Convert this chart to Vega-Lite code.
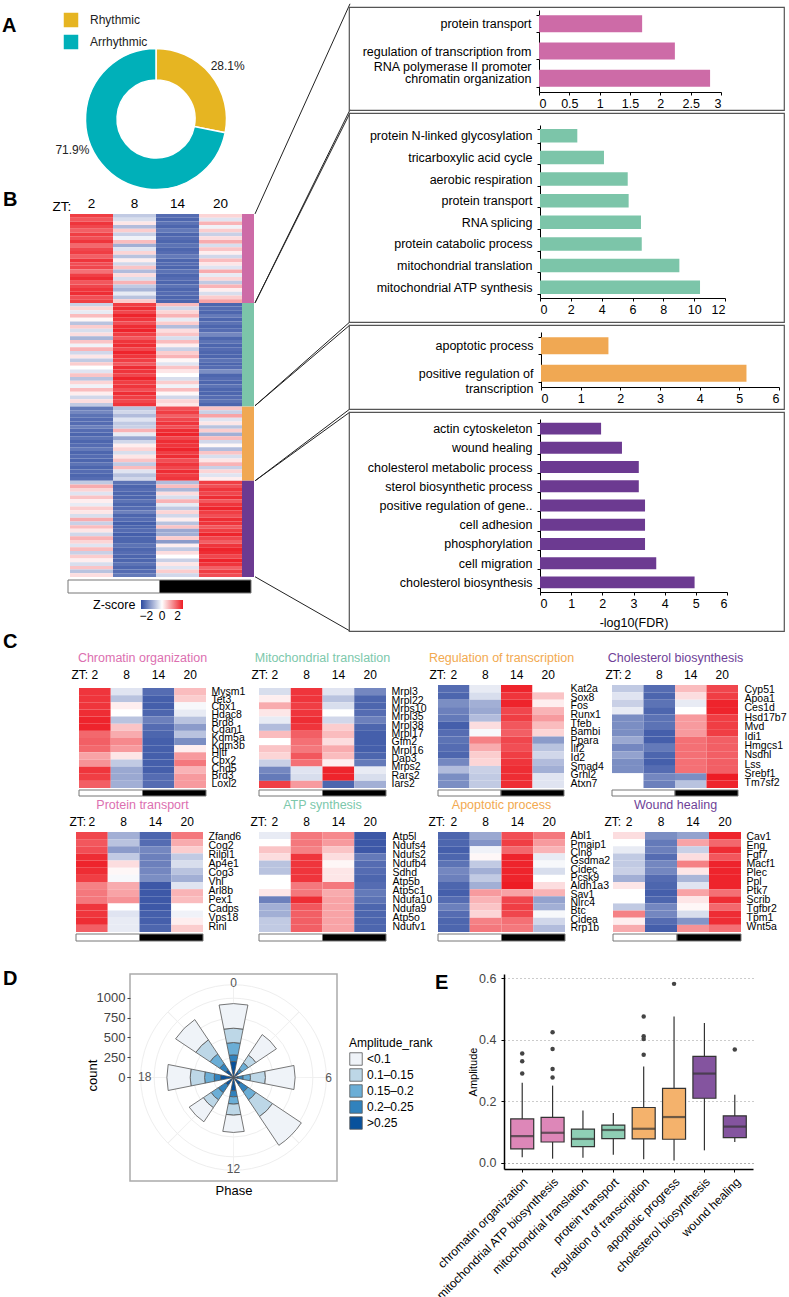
{"$schema":"https://vega.github.io/schema/vega-lite/v6.json","padding":0,"background":"white",
"config":{"font":"Liberation Sans","view":{"stroke":null},
"title":{"anchor":"start","frame":"group","fontSize":20,"fontWeight":"bold","offset":0,"baseline":"alphabetic","color":"#000"},
"axisTop":{"domain":false,"ticks":false,"labelAngle":0,"labelFontSize":12,"labelPadding":4,"labelColor":"#000","titleFontWeight":"normal","titleFontSize":12,"titleAlign":"left","titleBaseline":"alphabetic","titleX":-8,"titleY":-7,"titleColor":"#000"},
"axisRight":{"domain":false,"ticks":false,"labelFontSize":10.5,"labelPadding":5,"labelOverlap":false,"labelColor":"#000","labelLimit":100},
"axisLeft":{"domainColor":"#000","tickColor":"#000","tickSize":3,"tickBand":"extent","labelFontSize":12.5,"labelColor":"#000","labelPadding":5,"labelLimit":300,"labelLineHeight":15,"labelOverlap":false},
"axisBottom":{"tickSize":3,"labelFontSize":12.5,"labelColor":"#000","domainColor":"#000","tickColor":"#000","labelPadding":2,"labelOverlap":false,"labelAngle":0,"titleFontWeight":"normal","titleColor":"#000"}},
"datasets":{
"h":[{"r":1,"t":2,"z":2.3},{"r":2,"t":2,"z":2.0},{"r":3,"t":2,"z":2.4},{"r":4,"t":2,"z":2.2},{"r":5,"t":2,"z":1.9},{"r":6,"t":2,"z":2.3},{"r":7,"t":2,"z":2.1},{"r":8,"t":2,"z":2.4},{"r":9,"t":2,"z":1.8},{"r":10,"t":2,"z":2.2},{"r":11,"t":2,"z":2.3},{"r":12,"t":2,"z":1.9},{"r":13,"t":2,"z":2.4},{"r":14,"t":2,"z":2.1},{"r":15,"t":2,"z":2.2},{"r":16,"t":2,"z":1.7},{"r":17,"t":2,"z":2.3},{"r":18,"t":2,"z":2.5},{"r":19,"t":2,"z":2.0},{"r":20,"t":2,"z":2.2},{"r":21,"t":2,"z":2.4},{"r":22,"t":2,"z":2.5},{"r":23,"t":2,"z":2.1},{"r":24,"t":2,"z":2.3},
{"r":25,"t":2,"z":-0.7},{"r":26,"t":2,"z":0.5},{"r":27,"t":2,"z":-0.3},{"r":28,"t":2,"z":0.8},{"r":29,"t":2,"z":0.1},{"r":30,"t":2,"z":-0.9},{"r":31,"t":2,"z":0.6},{"r":32,"t":2,"z":-0.5},{"r":33,"t":2,"z":0.4},{"r":34,"t":2,"z":-1.1},{"r":35,"t":2,"z":0.7},{"r":36,"t":2,"z":-0.2},{"r":37,"t":2,"z":0.9},{"r":38,"t":2,"z":-0.6},{"r":39,"t":2,"z":0.3},{"r":40,"t":2,"z":-0.8},{"r":41,"t":2,"z":0.6},{"r":42,"t":2,"z":0},{"r":43,"t":2,"z":-0.4},{"r":44,"t":2,"z":0.7},{"r":45,"t":2,"z":-0.9},{"r":46,"t":2,"z":0.5},{"r":47,"t":2,"z":-0.2},{"r":48,"t":2,"z":0.8},{"r":49,"t":2,"z":0.2},{"r":50,"t":2,"z":-0.6},{"r":51,"t":2,"z":0.4},{"r":52,"t":2,"z":-0.8},
{"r":53,"t":2,"z":-2.0},{"r":54,"t":2,"z":-1.8},{"r":55,"t":2,"z":-2.1},{"r":56,"t":2,"z":-2.2},{"r":57,"t":2,"z":-2.2},{"r":58,"t":2,"z":-1.9},{"r":59,"t":2,"z":-2.2},{"r":60,"t":2,"z":-2.3},{"r":61,"t":2,"z":-2.1},{"r":62,"t":2,"z":-2.3},{"r":63,"t":2,"z":-2.2},{"r":64,"t":2,"z":-2.0},{"r":65,"t":2,"z":-2.3},{"r":66,"t":2,"z":-2.2},{"r":67,"t":2,"z":-2.3},{"r":68,"t":2,"z":-2.1},{"r":69,"t":2,"z":-2.3},{"r":70,"t":2,"z":-2.2},{"r":71,"t":2,"z":-2.3},{"r":72,"t":2,"z":-2.2},
{"r":73,"t":2,"z":-0.8},{"r":74,"t":2,"z":1.0},{"r":75,"t":2,"z":0.5},{"r":76,"t":2,"z":-0.4},{"r":77,"t":2,"z":0.7},{"r":78,"t":2,"z":0.2},{"r":79,"t":2,"z":-0.3},{"r":80,"t":2,"z":0.6},{"r":81,"t":2,"z":0.3},{"r":82,"t":2,"z":-0.5},{"r":83,"t":2,"z":1.0},{"r":84,"t":2,"z":-0.7},{"r":85,"t":2,"z":0.8},{"r":86,"t":2,"z":0.3},{"r":87,"t":2,"z":-0.6},{"r":88,"t":2,"z":0.9},{"r":89,"t":2,"z":0.5},{"r":90,"t":2,"z":-0.4},{"r":91,"t":2,"z":0.8},{"r":92,"t":2,"z":-0.7},{"r":93,"t":2,"z":0.6},{"r":94,"t":2,"z":0.2},{"r":95,"t":2,"z":-0.5},{"r":96,"t":2,"z":0.7},{"r":97,"t":2,"z":-0.9},{"r":98,"t":2,"z":0.4},
{"r":1,"t":8,"z":-0.8},{"r":2,"t":8,"z":-0.5},{"r":3,"t":8,"z":0.3},{"r":4,"t":8,"z":-1.0},{"r":5,"t":8,"z":0.6},{"r":6,"t":8,"z":-0.7},{"r":7,"t":8,"z":-0.2},{"r":8,"t":8,"z":0.8},{"r":9,"t":8,"z":-1.2},{"r":10,"t":8,"z":-0.4},{"r":11,"t":8,"z":0.5},{"r":12,"t":8,"z":-0.9},{"r":13,"t":8,"z":0.2},{"r":14,"t":8,"z":-0.6},{"r":15,"t":8,"z":0.7},{"r":16,"t":8,"z":-1.0},{"r":17,"t":8,"z":0.4},{"r":18,"t":8,"z":-0.5},{"r":19,"t":8,"z":0.9},{"r":20,"t":8,"z":-0.8},{"r":21,"t":8,"z":-1.1},{"r":22,"t":8,"z":-0.3},{"r":23,"t":8,"z":-0.9},{"r":24,"t":8,"z":0.6},
{"r":25,"t":8,"z":2.3},{"r":26,"t":8,"z":2.5},{"r":27,"t":8,"z":2.2},{"r":28,"t":8,"z":2.6},{"r":29,"t":8,"z":2.4},{"r":30,"t":8,"z":2.1},{"r":31,"t":8,"z":2.5},{"r":32,"t":8,"z":2.6},{"r":33,"t":8,"z":2.3},{"r":34,"t":8,"z":2.0},{"r":35,"t":8,"z":2.4},{"r":36,"t":8,"z":2.5},{"r":37,"t":8,"z":2.2},{"r":38,"t":8,"z":2.6},{"r":39,"t":8,"z":2.4},{"r":40,"t":8,"z":2.3},{"r":41,"t":8,"z":2.0},{"r":42,"t":8,"z":2.5},{"r":43,"t":8,"z":2.4},{"r":44,"t":8,"z":2.2},{"r":45,"t":8,"z":2.6},{"r":46,"t":8,"z":2.3},{"r":47,"t":8,"z":2.4},{"r":48,"t":8,"z":2.1},{"r":49,"t":8,"z":2.5},{"r":50,"t":8,"z":2.3},{"r":51,"t":8,"z":2.2},{"r":52,"t":8,"z":2.4},
{"r":53,"t":8,"z":-0.9},{"r":54,"t":8,"z":-0.6},{"r":55,"t":8,"z":-1.0},{"r":56,"t":8,"z":-0.4},{"r":57,"t":8,"z":-0.8},{"r":58,"t":8,"z":-0.7},{"r":59,"t":8,"z":0.9},{"r":60,"t":8,"z":-0.3},{"r":61,"t":8,"z":-1.3},{"r":62,"t":8,"z":-0.6},{"r":63,"t":8,"z":0.2},{"r":64,"t":8,"z":0.5},{"r":65,"t":8,"z":-0.5},{"r":66,"t":8,"z":0.3},{"r":67,"t":8,"z":0.7},{"r":68,"t":8,"z":-0.8},{"r":69,"t":8,"z":0.8},{"r":70,"t":8,"z":-0.4},{"r":71,"t":8,"z":-0.9},{"r":72,"t":8,"z":-0.6},
{"r":73,"t":8,"z":-2.1},{"r":74,"t":8,"z":-2.3},{"r":75,"t":8,"z":-2.2},{"r":76,"t":8,"z":-2.3},{"r":77,"t":8,"z":-2.3},{"r":78,"t":8,"z":-2.1},{"r":79,"t":8,"z":-2.3},{"r":80,"t":8,"z":-2.2},{"r":81,"t":8,"z":-1.9},{"r":82,"t":8,"z":-2.3},{"r":83,"t":8,"z":-2.2},{"r":84,"t":8,"z":-2.4},{"r":85,"t":8,"z":-2.3},{"r":86,"t":8,"z":-2.2},{"r":87,"t":8,"z":-2.4},{"r":88,"t":8,"z":-2.3},{"r":89,"t":8,"z":-2.3},{"r":90,"t":8,"z":-2.1},{"r":91,"t":8,"z":-2.3},{"r":92,"t":8,"z":-2.2},{"r":93,"t":8,"z":-2.3},{"r":94,"t":8,"z":-2.3},{"r":95,"t":8,"z":-2.1},{"r":96,"t":8,"z":-2.3},{"r":97,"t":8,"z":-2.2},{"r":98,"t":8,"z":-2.0},
{"r":1,"t":14,"z":-2.2},{"r":2,"t":14,"z":-2.3},{"r":3,"t":14,"z":-2.1},{"r":4,"t":14,"z":-2.3},{"r":5,"t":14,"z":-2.0},{"r":6,"t":14,"z":-2.3},{"r":7,"t":14,"z":-2.2},{"r":8,"t":14,"z":-2.3},{"r":9,"t":14,"z":-2.1},{"r":10,"t":14,"z":-2.3},{"r":11,"t":14,"z":-2.2},{"r":12,"t":14,"z":-2.0},{"r":13,"t":14,"z":-2.3},{"r":14,"t":14,"z":-2.2},{"r":15,"t":14,"z":-2.3},{"r":16,"t":14,"z":-2.1},{"r":17,"t":14,"z":-2.3},{"r":18,"t":14,"z":-2.2},{"r":19,"t":14,"z":-2.3},{"r":20,"t":14,"z":-2.1},{"r":21,"t":14,"z":-2.3},{"r":22,"t":14,"z":-2.2},{"r":23,"t":14,"z":-2.3},{"r":24,"t":14,"z":-2.3},
{"r":25,"t":14,"z":0.8},{"r":26,"t":14,"z":-0.6},{"r":27,"t":14,"z":0.5},{"r":28,"t":14,"z":0.9},{"r":29,"t":14,"z":-0.3},{"r":30,"t":14,"z":0.6},{"r":31,"t":14,"z":-1.0},{"r":32,"t":14,"z":0.4},{"r":33,"t":14,"z":0.7},{"r":34,"t":14,"z":-0.5},{"r":35,"t":14,"z":0.8},{"r":36,"t":14,"z":0.2},{"r":37,"t":14,"z":-0.7},{"r":38,"t":14,"z":0.6},{"r":39,"t":14,"z":0.9},{"r":40,"t":14,"z":0.1},{"r":41,"t":14,"z":-0.4},{"r":42,"t":14,"z":0.7},{"r":43,"t":14,"z":0.3},{"r":44,"t":14,"z":0},{"r":45,"t":14,"z":-0.5},{"r":46,"t":14,"z":0.6},{"r":47,"t":14,"z":-0.2},{"r":48,"t":14,"z":0.8},{"r":49,"t":14,"z":0.1},{"r":50,"t":14,"z":-0.6},{"r":51,"t":14,"z":0.5},{"r":52,"t":14,"z":0.3},
{"r":53,"t":14,"z":2.1},{"r":54,"t":14,"z":2.3},{"r":55,"t":14,"z":1.9},{"r":56,"t":14,"z":2.2},{"r":57,"t":14,"z":2.4},{"r":58,"t":14,"z":2.1},{"r":59,"t":14,"z":2.5},{"r":60,"t":14,"z":2.6},{"r":61,"t":14,"z":2.2},{"r":62,"t":14,"z":2.5},{"r":63,"t":14,"z":2.4},{"r":64,"t":14,"z":2.6},{"r":65,"t":14,"z":2.3},{"r":66,"t":14,"z":2.5},{"r":67,"t":14,"z":2.1},{"r":68,"t":14,"z":2.4},{"r":69,"t":14,"z":2.2},{"r":70,"t":14,"z":2.5},{"r":71,"t":14,"z":2.3},{"r":72,"t":14,"z":2.4},
{"r":73,"t":14,"z":-1.0},{"r":74,"t":14,"z":0.8},{"r":75,"t":14,"z":-1.1},{"r":76,"t":14,"z":0.4},{"r":77,"t":14,"z":-0.5},{"r":78,"t":14,"z":0.9},{"r":79,"t":14,"z":-0.3},{"r":80,"t":14,"z":-0.8},{"r":81,"t":14,"z":0.5},{"r":82,"t":14,"z":-0.6},{"r":83,"t":14,"z":0.2},{"r":84,"t":14,"z":-0.9},{"r":85,"t":14,"z":0.7},{"r":86,"t":14,"z":-1.3},{"r":87,"t":14,"z":-1.2},{"r":88,"t":14,"z":0.6},{"r":89,"t":14,"z":-1.5},{"r":90,"t":14,"z":0.2},{"r":91,"t":14,"z":-0.8},{"r":92,"t":14,"z":0.4},{"r":93,"t":14,"z":0},{"r":94,"t":14,"z":-0.7},{"r":95,"t":14,"z":0.3},{"r":96,"t":14,"z":-0.4},{"r":97,"t":14,"z":0.6},{"r":98,"t":14,"z":-0.6},
{"r":1,"t":20,"z":0.5},{"r":2,"t":20,"z":-0.4},{"r":3,"t":20,"z":0.9},{"r":4,"t":20,"z":-0.2},{"r":5,"t":20,"z":0.6},{"r":6,"t":20,"z":-0.7},{"r":7,"t":20,"z":0.4},{"r":8,"t":20,"z":1.0},{"r":9,"t":20,"z":-0.5},{"r":10,"t":20,"z":0.7},{"r":11,"t":20,"z":0.2},{"r":12,"t":20,"z":-0.6},{"r":13,"t":20,"z":0.8},{"r":14,"t":20,"z":0.3},{"r":15,"t":20,"z":-0.4},{"r":16,"t":20,"z":1.0},{"r":17,"t":20,"z":-0.3},{"r":18,"t":20,"z":0.5},{"r":19,"t":20,"z":-0.8},{"r":20,"t":20,"z":0.9},{"r":21,"t":20,"z":0.2},{"r":22,"t":20,"z":-0.5},{"r":23,"t":20,"z":0.6},{"r":24,"t":20,"z":1.1},
{"r":25,"t":20,"z":-2.3},{"r":26,"t":20,"z":-2.2},{"r":27,"t":20,"z":-2.3},{"r":28,"t":20,"z":-2.0},{"r":29,"t":20,"z":-2.3},{"r":30,"t":20,"z":-2.1},{"r":31,"t":20,"z":-2.3},{"r":32,"t":20,"z":-2.2},{"r":33,"t":20,"z":-1.8},{"r":34,"t":20,"z":-2.3},{"r":35,"t":20,"z":-2.1},{"r":36,"t":20,"z":-2.3},{"r":37,"t":20,"z":-2.2},{"r":38,"t":20,"z":-2.3},{"r":39,"t":20,"z":-2.3},{"r":40,"t":20,"z":-2.1},{"r":41,"t":20,"z":-2.3},{"r":42,"t":20,"z":-2.2},{"r":43,"t":20,"z":-1.7},{"r":44,"t":20,"z":-2.3},{"r":45,"t":20,"z":-2.2},{"r":46,"t":20,"z":-2.3},{"r":47,"t":20,"z":-2.1},{"r":48,"t":20,"z":-2.3},{"r":49,"t":20,"z":-2.3},{"r":50,"t":20,"z":-2.2},{"r":51,"t":20,"z":-2.1},{"r":52,"t":20,"z":-2.3},
{"r":53,"t":20,"z":0.7},{"r":54,"t":20,"z":-0.7},{"r":55,"t":20,"z":1.1},{"r":56,"t":20,"z":-0.4},{"r":57,"t":20,"z":0.3},{"r":58,"t":20,"z":-0.9},{"r":59,"t":20,"z":0.6},{"r":60,"t":20,"z":-1.2},{"r":61,"t":20,"z":0.8},{"r":62,"t":20,"z":-0.6},{"r":63,"t":20,"z":0.1},{"r":64,"t":20,"z":-1.0},{"r":65,"t":20,"z":0.7},{"r":66,"t":20,"z":-0.5},{"r":67,"t":20,"z":0.3},{"r":68,"t":20,"z":0.9},{"r":69,"t":20,"z":-0.7},{"r":70,"t":20,"z":0.5},{"r":71,"t":20,"z":-0.4},{"r":72,"t":20,"z":0.2},
{"r":73,"t":20,"z":2.3},{"r":74,"t":20,"z":2.1},{"r":75,"t":20,"z":2.4},{"r":76,"t":20,"z":2.2},{"r":77,"t":20,"z":2.5},{"r":78,"t":20,"z":2.0},{"r":79,"t":20,"z":2.4},{"r":80,"t":20,"z":2.6},{"r":81,"t":20,"z":2.3},{"r":82,"t":20,"z":2.1},{"r":83,"t":20,"z":2.5},{"r":84,"t":20,"z":2.4},{"r":85,"t":20,"z":2.0},{"r":86,"t":20,"z":2.3},{"r":87,"t":20,"z":2.6},{"r":88,"t":20,"z":2.2},{"r":89,"t":20,"z":1.9},{"r":90,"t":20,"z":2.4},{"r":91,"t":20,"z":2.6},{"r":92,"t":20,"z":2.5},{"r":93,"t":20,"z":2.2},{"r":94,"t":20,"z":2.6},{"r":95,"t":20,"z":2.4},{"r":96,"t":20,"z":1.9},{"r":97,"t":20,"z":2.3},{"r":98,"t":20,"z":2.1}],
"c1":[{"r":1,"t":2,"z":2.4},{"r":2,"t":2,"z":2.4},{"r":3,"t":2,"z":2.4},{"r":4,"t":2,"z":2.5},{"r":5,"t":2,"z":2.6},{"r":6,"t":2,"z":2.6},{"r":7,"t":2,"z":1.8},{"r":8,"t":2,"z":1.9},{"r":9,"t":2,"z":1.8},{"r":10,"t":2,"z":1.1},{"r":11,"t":2,"z":1.3},{"r":12,"t":2,"z":2.4},{"r":13,"t":2,"z":2.3},{"r":14,"t":2,"z":1.9},
{"r":1,"t":8,"z":-0.4},{"r":2,"t":8,"z":-0.9},{"r":3,"t":8,"z":0.2},{"r":4,"t":8,"z":0},{"r":5,"t":8,"z":-0.9},{"r":6,"t":8,"z":0.7},{"r":7,"t":8,"z":1.0},{"r":8,"t":8,"z":1.4},{"r":9,"t":8,"z":1.2},{"r":10,"t":8,"z":0.3},{"r":11,"t":8,"z":-0.8},{"r":12,"t":8,"z":-1.3},{"r":13,"t":8,"z":-1.3},{"r":14,"t":8,"z":-1.2},
{"r":1,"t":14,"z":-2.2},{"r":2,"t":14,"z":-2.4},{"r":3,"t":14,"z":-2.4},{"r":4,"t":14,"z":-2.3},{"r":5,"t":14,"z":-1.9},{"r":6,"t":14,"z":-2.2},{"r":7,"t":14,"z":-2.3},{"r":8,"t":14,"z":-2.4},{"r":9,"t":14,"z":-2.4},{"r":10,"t":14,"z":-2.4},{"r":11,"t":14,"z":-2.4},{"r":12,"t":14,"z":-2.4},{"r":13,"t":14,"z":-2.2},{"r":14,"t":14,"z":-2.2},
{"r":1,"t":20,"z":0.8},{"r":2,"t":20,"z":0.6},{"r":3,"t":20,"z":-0.1},{"r":4,"t":20,"z":-0.3},{"r":5,"t":20,"z":-0.9},{"r":6,"t":20,"z":-1.5},{"r":7,"t":20,"z":-0.9},{"r":8,"t":20,"z":-1.7},{"r":9,"t":20,"z":0.2},{"r":10,"t":20,"z":1.2},{"r":11,"t":20,"z":1.6},{"r":12,"t":20,"z":0.9},{"r":13,"t":20,"z":1.2},{"r":14,"t":20,"z":1.2}],
"c2":[{"r":1,"t":2,"z":-0.5},{"r":2,"t":2,"z":0.2},{"r":3,"t":2,"z":1.0},{"r":4,"t":2,"z":0.3},{"r":5,"t":2,"z":-0.3},{"r":6,"t":2,"z":-1.0},{"r":7,"t":2,"z":0.8},{"r":8,"t":2,"z":0},{"r":9,"t":2,"z":0.7},{"r":10,"t":2,"z":0.5},{"r":11,"t":2,"z":-0.7},{"r":12,"t":2,"z":-1.8},{"r":13,"t":2,"z":-2.0},{"r":14,"t":2,"z":2.3},
{"r":1,"t":8,"z":2.4},{"r":2,"t":8,"z":2.4},{"r":3,"t":8,"z":2.3},{"r":4,"t":8,"z":2.4},{"r":5,"t":8,"z":2.5},{"r":6,"t":8,"z":2.4},{"r":7,"t":8,"z":1.9},{"r":8,"t":8,"z":1.7},{"r":9,"t":8,"z":1.6},{"r":10,"t":8,"z":2.0},{"r":11,"t":8,"z":1.7},{"r":12,"t":8,"z":-0.4},{"r":13,"t":8,"z":-0.5},{"r":14,"t":8,"z":1.2},
{"r":1,"t":14,"z":-0.4},{"r":2,"t":14,"z":-0.9},{"r":3,"t":14,"z":-0.5},{"r":4,"t":14,"z":0},{"r":5,"t":14,"z":-0.6},{"r":6,"t":14,"z":0.6},{"r":7,"t":14,"z":0.8},{"r":8,"t":14,"z":0.4},{"r":9,"t":14,"z":1.0},{"r":10,"t":14,"z":0.8},{"r":11,"t":14,"z":0.2},{"r":12,"t":14,"z":2.6},{"r":13,"t":14,"z":2.6},{"r":14,"t":14,"z":-2.3},
{"r":1,"t":20,"z":-1.8},{"r":2,"t":20,"z":-2.3},{"r":3,"t":20,"z":-2.3},{"r":4,"t":20,"z":-2.2},{"r":5,"t":20,"z":-1.9},{"r":6,"t":20,"z":-2.3},{"r":7,"t":20,"z":-2.4},{"r":8,"t":20,"z":-2.4},{"r":9,"t":20,"z":-2.4},{"r":10,"t":20,"z":-2.3},{"r":11,"t":20,"z":-2.0},{"r":12,"t":20,"z":-0.3},{"r":13,"t":20,"z":-0.5},{"r":14,"t":20,"z":-1.2}],
"c3":[{"r":1,"t":2,"z":-2.2},{"r":2,"t":2,"z":-2.3},{"r":3,"t":2,"z":-1.7},{"r":4,"t":2,"z":-1.9},{"r":5,"t":2,"z":-2.0},{"r":6,"t":2,"z":-2.4},{"r":7,"t":2,"z":-2.2},{"r":8,"t":2,"z":-2.1},{"r":9,"t":2,"z":-2.2},{"r":10,"t":2,"z":-2.3},{"r":11,"t":2,"z":-1.8},{"r":12,"t":2,"z":-1.0},{"r":13,"t":2,"z":-1.7},{"r":14,"t":2,"z":-1.7},
{"r":1,"t":8,"z":-0.3},{"r":2,"t":8,"z":-0.5},{"r":3,"t":8,"z":-1.2},{"r":4,"t":8,"z":-1.3},{"r":5,"t":8,"z":-1.0},{"r":6,"t":8,"z":0.4},{"r":7,"t":8,"z":-0.1},{"r":8,"t":8,"z":1.5},{"r":9,"t":8,"z":1.0},{"r":10,"t":8,"z":0.6},{"r":11,"t":8,"z":0.5},{"r":12,"t":8,"z":-0.7},{"r":13,"t":8,"z":-0.8},{"r":14,"t":8,"z":-0.8},
{"r":1,"t":14,"z":2.6},{"r":2,"t":14,"z":2.4},{"r":3,"t":14,"z":2.6},{"r":4,"t":14,"z":2.2},{"r":5,"t":14,"z":2.3},{"r":6,"t":14,"z":2.0},{"r":7,"t":14,"z":1.9},{"r":8,"t":14,"z":2.2},{"r":9,"t":14,"z":2.1},{"r":10,"t":14,"z":2.3},{"r":11,"t":14,"z":2.4},{"r":12,"t":14,"z":2.5},{"r":13,"t":14,"z":2.5},{"r":14,"t":14,"z":2.5},
{"r":1,"t":20,"z":0},{"r":2,"t":20,"z":0.7},{"r":3,"t":20,"z":0.2},{"r":4,"t":20,"z":0.9},{"r":5,"t":20,"z":1.2},{"r":6,"t":20,"z":0.8},{"r":7,"t":20,"z":0.5},{"r":8,"t":20,"z":-1.5},{"r":9,"t":20,"z":-0.9},{"r":10,"t":20,"z":-0.6},{"r":11,"t":20,"z":-1.0},{"r":12,"t":20,"z":-1.2},{"r":13,"t":20,"z":-0.4},{"r":14,"t":20,"z":-0.4}],
"c4":[{"r":1,"t":2,"z":-0.8},{"r":2,"t":2,"z":-0.4},{"r":3,"t":2,"z":-0.7},{"r":4,"t":2,"z":-0.3},{"r":5,"t":2,"z":-1.7},{"r":6,"t":2,"z":-1.7},{"r":7,"t":2,"z":-1.7},{"r":8,"t":2,"z":-1.3},{"r":9,"t":2,"z":-1.8},{"r":10,"t":2,"z":-1.4},{"r":11,"t":2,"z":-1.7},{"r":12,"t":2,"z":-1.7},{"r":13,"t":2,"z":0},{"r":14,"t":2,"z":0},
{"r":1,"t":8,"z":-2.2},{"r":2,"t":8,"z":-2.3},{"r":3,"t":8,"z":-2.1},{"r":4,"t":8,"z":-2.3},{"r":5,"t":8,"z":-2.1},{"r":6,"t":8,"z":-2.1},{"r":7,"t":8,"z":-2.4},{"r":8,"t":8,"z":-2.4},{"r":9,"t":8,"z":-2.0},{"r":10,"t":8,"z":-2.3},{"r":11,"t":8,"z":-2.4},{"r":12,"t":8,"z":-2.2},{"r":13,"t":8,"z":-1.8},{"r":14,"t":8,"z":-1.9},
{"r":1,"t":14,"z":0.8},{"r":2,"t":14,"z":0.4},{"r":3,"t":14,"z":-0.3},{"r":4,"t":14,"z":0},{"r":5,"t":14,"z":1.2},{"r":6,"t":14,"z":1.2},{"r":7,"t":14,"z":1.2},{"r":8,"t":14,"z":1.7},{"r":9,"t":14,"z":1.7},{"r":10,"t":14,"z":1.7},{"r":11,"t":14,"z":1.7},{"r":12,"t":14,"z":1.7},{"r":13,"t":14,"z":-1.7},{"r":14,"t":14,"z":-0.9},
{"r":1,"t":20,"z":2.2},{"r":2,"t":20,"z":2.3},{"r":3,"t":20,"z":2.6},{"r":4,"t":20,"z":2.6},{"r":5,"t":20,"z":2.3},{"r":6,"t":20,"z":2.3},{"r":7,"t":20,"z":2.3},{"r":8,"t":20,"z":1.9},{"r":9,"t":20,"z":1.9},{"r":10,"t":20,"z":1.9},{"r":11,"t":20,"z":1.9},{"r":12,"t":20,"z":1.9},{"r":13,"t":20,"z":2.7},{"r":14,"t":20,"z":2.6}],
"c5":[{"r":1,"t":2,"z":2.2},{"r":2,"t":2,"z":2.0},{"r":3,"t":2,"z":2.1},{"r":4,"t":2,"z":2.5},{"r":5,"t":2,"z":2.6},{"r":6,"t":2,"z":2.5},{"r":7,"t":2,"z":2.3},{"r":8,"t":2,"z":1.5},{"r":9,"t":2,"z":1.6},{"r":10,"t":2,"z":1.6},{"r":11,"t":2,"z":2.4},{"r":12,"t":2,"z":2.4},{"r":13,"t":2,"z":2.5},{"r":14,"t":2,"z":1.9},
{"r":1,"t":8,"z":-1.2},{"r":2,"t":8,"z":-0.9},{"r":3,"t":8,"z":-1.5},{"r":4,"t":8,"z":-0.8},{"r":5,"t":8,"z":0.4},{"r":6,"t":8,"z":0.1},{"r":7,"t":8,"z":-0.1},{"r":8,"t":8,"z":1.0},{"r":9,"t":8,"z":1.1},{"r":10,"t":8,"z":1.3},{"r":11,"t":8,"z":0},{"r":12,"t":8,"z":-0.4},{"r":13,"t":8,"z":-0.3},{"r":14,"t":8,"z":-0.3},
{"r":1,"t":14,"z":-2.3},{"r":2,"t":14,"z":-2.2},{"r":3,"t":14,"z":-1.8},{"r":4,"t":14,"z":-1.9},{"r":5,"t":14,"z":-1.9},{"r":6,"t":14,"z":-1.8},{"r":7,"t":14,"z":-1.7},{"r":8,"t":14,"z":-2.5},{"r":9,"t":14,"z":-2.5},{"r":10,"t":14,"z":-2.5},{"r":11,"t":14,"z":-2.5},{"r":12,"t":14,"z":-2.4},{"r":13,"t":14,"z":-2.4},{"r":14,"t":14,"z":-2.3},
{"r":1,"t":20,"z":1.6},{"r":2,"t":20,"z":1.0},{"r":3,"t":20,"z":0.6},{"r":4,"t":20,"z":-0.8},{"r":5,"t":20,"z":-0.5},{"r":6,"t":20,"z":-0.9},{"r":7,"t":20,"z":-1.2},{"r":8,"t":20,"z":-0.4},{"r":9,"t":20,"z":0.9},{"r":10,"t":20,"z":0.8},{"r":11,"t":20,"z":0},{"r":12,"t":20,"z":-0.2},{"r":13,"t":20,"z":0.2},{"r":14,"t":20,"z":0.6}],
"c6":[{"r":1,"t":2,"z":-0.3},{"r":2,"t":2,"z":0},{"r":3,"t":2,"z":0.7},{"r":4,"t":2,"z":0.4},{"r":5,"t":2,"z":-0.9},{"r":6,"t":2,"z":-0.9},{"r":7,"t":2,"z":0},{"r":8,"t":2,"z":0},{"r":9,"t":2,"z":0.3},{"r":10,"t":2,"z":-1.9},{"r":11,"t":2,"z":-1.2},{"r":12,"t":2,"z":-1.2},{"r":13,"t":2,"z":-0.8},{"r":14,"t":2,"z":-0.8},
{"r":1,"t":8,"z":1.6},{"r":2,"t":8,"z":1.6},{"r":3,"t":8,"z":1.5},{"r":4,"t":8,"z":2.4},{"r":5,"t":8,"z":2.4},{"r":6,"t":8,"z":2.4},{"r":7,"t":8,"z":2.4},{"r":8,"t":8,"z":1.6},{"r":9,"t":8,"z":1.6},{"r":10,"t":8,"z":2.5},{"r":11,"t":8,"z":2.0},{"r":12,"t":8,"z":1.9},{"r":13,"t":8,"z":1.9},{"r":14,"t":8,"z":1.9},
{"r":1,"t":14,"z":1.4},{"r":2,"t":14,"z":1.2},{"r":3,"t":14,"z":0.7},{"r":4,"t":14,"z":0.4},{"r":5,"t":14,"z":0.1},{"r":6,"t":14,"z":0.3},{"r":7,"t":14,"z":0.3},{"r":8,"t":14,"z":1.6},{"r":9,"t":14,"z":1.0},{"r":10,"t":14,"z":1.1},{"r":11,"t":14,"z":1.1},{"r":12,"t":14,"z":1.1},{"r":13,"t":14,"z":1.1},{"r":14,"t":14,"z":1.1},
{"r":1,"t":20,"z":-2.5},{"r":2,"t":20,"z":-2.5},{"r":3,"t":20,"z":-2.5},{"r":4,"t":20,"z":-2.0},{"r":5,"t":20,"z":-2.2},{"r":6,"t":20,"z":-2.2},{"r":7,"t":20,"z":-2.3},{"r":8,"t":20,"z":-2.2},{"r":9,"t":20,"z":-2.0},{"r":10,"t":20,"z":-2.1},{"r":11,"t":20,"z":-2.3},{"r":12,"t":20,"z":-2.3},{"r":13,"t":20,"z":-2.3},{"r":14,"t":20,"z":-2.3}],
"c7":[{"r":1,"t":2,"z":-2.3},{"r":2,"t":2,"z":-2.3},{"r":3,"t":2,"z":-2.4},{"r":4,"t":2,"z":-2.3},{"r":5,"t":2,"z":-2.1},{"r":6,"t":2,"z":-1.8},{"r":7,"t":2,"z":-1.9},{"r":8,"t":2,"z":-2.3},{"r":9,"t":2,"z":-2.4},{"r":10,"t":2,"z":-2.2},{"r":11,"t":2,"z":-1.9},{"r":12,"t":2,"z":-2.2},{"r":13,"t":2,"z":-2.3},{"r":14,"t":2,"z":-2.3},
{"r":1,"t":8,"z":-1.3},{"r":2,"t":8,"z":-1.6},{"r":3,"t":8,"z":-0.2},{"r":4,"t":8,"z":0.1},{"r":5,"t":8,"z":-0.8},{"r":6,"t":8,"z":-1.2},{"r":7,"t":8,"z":-0.8},{"r":8,"t":8,"z":-1.2},{"r":9,"t":8,"z":1.2},{"r":10,"t":8,"z":0.9},{"r":11,"t":8,"z":0.7},{"r":12,"t":8,"z":0.5},{"r":13,"t":8,"z":1.5},{"r":14,"t":8,"z":1.6},
{"r":1,"t":14,"z":2.1},{"r":2,"t":14,"z":2.3},{"r":3,"t":14,"z":1.8},{"r":4,"t":14,"z":2.6},{"r":5,"t":14,"z":2.6},{"r":6,"t":14,"z":2.6},{"r":7,"t":14,"z":2.6},{"r":8,"t":14,"z":2.7},{"r":9,"t":14,"z":1.1},{"r":10,"t":14,"z":2.2},{"r":11,"t":14,"z":2.3},{"r":12,"t":14,"z":2.2},{"r":13,"t":14,"z":1.7},{"r":14,"t":14,"z":1.6},
{"r":1,"t":20,"z":1.6},{"r":2,"t":20,"z":1.2},{"r":3,"t":20,"z":0.9},{"r":4,"t":20,"z":-0.3},{"r":5,"t":20,"z":-0.1},{"r":6,"t":20,"z":-0.5},{"r":7,"t":20,"z":0},{"r":8,"t":20,"z":0.4},{"r":9,"t":20,"z":0.9},{"r":10,"t":20,"z":-1.4},{"r":11,"t":20,"z":-1.2},{"r":12,"t":20,"z":-0.1},{"r":13,"t":20,"z":-0.6},{"r":14,"t":20,"z":-1.0}],
"c8":[{"r":1,"t":2,"z":0.4},{"r":2,"t":2,"z":0},{"r":3,"t":2,"z":-0.3},{"r":4,"t":2,"z":-0.8},{"r":5,"t":2,"z":-0.8},{"r":6,"t":2,"z":-0.7},{"r":7,"t":2,"z":-1.2},{"r":8,"t":2,"z":0.3},{"r":9,"t":2,"z":0},{"r":10,"t":2,"z":0},{"r":11,"t":2,"z":-0.8},{"r":12,"t":2,"z":1.5},{"r":13,"t":2,"z":0.2},{"r":14,"t":2,"z":1.0},
{"r":1,"t":8,"z":-1.7},{"r":2,"t":8,"z":-2.0},{"r":3,"t":8,"z":-1.9},{"r":4,"t":8,"z":-2.2},{"r":5,"t":8,"z":-1.8},{"r":6,"t":8,"z":-1.8},{"r":7,"t":8,"z":-2.2},{"r":8,"t":8,"z":-2.3},{"r":9,"t":8,"z":-2.4},{"r":10,"t":8,"z":-2.3},{"r":11,"t":8,"z":-1.8},{"r":12,"t":8,"z":-1.8},{"r":13,"t":8,"z":-2.2},{"r":14,"t":8,"z":-2.4},
{"r":1,"t":14,"z":-1.4},{"r":2,"t":14,"z":1.1},{"r":3,"t":14,"z":-0.7},{"r":4,"t":14,"z":0.4},{"r":5,"t":14,"z":1.5},{"r":6,"t":14,"z":0.3},{"r":7,"t":14,"z":-1.1},{"r":8,"t":14,"z":-0.4},{"r":9,"t":14,"z":1.1},{"r":10,"t":14,"z":0.3},{"r":11,"t":14,"z":0.1},{"r":12,"t":14,"z":-0.5},{"r":13,"t":14,"z":-1.6},{"r":14,"t":14,"z":1.3},
{"r":1,"t":20,"z":2.6},{"r":2,"t":20,"z":1.8},{"r":3,"t":20,"z":2.5},{"r":4,"t":20,"z":2.0},{"r":5,"t":20,"z":2.6},{"r":6,"t":20,"z":2.6},{"r":7,"t":20,"z":2.6},{"r":8,"t":20,"z":2.6},{"r":9,"t":20,"z":1.7},{"r":10,"t":20,"z":2.5},{"r":11,"t":20,"z":1.8},{"r":12,"t":20,"z":2.5},{"r":13,"t":20,"z":2.5},{"r":14,"t":20,"z":1.7}],
"ld":[{"p":"L"},{"p":"D"}],
"bx":[{"n":"chromatin organization","lo":0.019,"hi":0.26,"q1":0.046,"q3":0.143,"m":0.087},{"n":"mitochondrial ATP biosynthesis","lo":0.014,"hi":0.251,"q1":0.068,"q3":0.148,"m":0.098},{"n":"mitochondrial translation","lo":0.017,"hi":0.17,"q1":0.053,"q3":0.11,"m":0.078},{"n":"protein transport","lo":0.027,"hi":0.162,"q1":0.079,"q3":0.123,"m":0.107},{"n":"regulation of transcription","lo":0.012,"hi":0.313,"q1":0.078,"q3":0.18,"m":0.111},{"n":"apoptotic progress","lo":0.008,"hi":0.475,"q1":0.077,"q3":0.242,"m":0.149},{"n":"cholesterol biosynthesis","lo":0.041,"hi":0.454,"q1":0.21,"q3":0.346,"m":0.29},{"n":"wound healing","lo":0.068,"hi":0.221,"q1":0.082,"q3":0.153,"m":0.118}]},
"resolve":{"scale":{"color":"independent","fill":"independent","theta":"independent","radius":"independent"}},
"vconcat":[
{"hconcat":[
{"concat":[
{"width":70,"height":45,"data":{"values":[]},"mark":"point","title":{"text":"A","dx":2,"dy":37}},
{"width":172,"height":45,"data":{"values":[]},"mark":"point"},
{"width":12,"height":45,"data":{"values":[]},"mark":"point"},
{"width":70,"height":142,"data":{"values":[]},"mark":"point"},
{"width":172,"height":142,"layer":[
{"data":{"values":[{"s":"Rhythmic","v":28.1,"i":1},{"s":"Arrhythmic","v":71.9,"i":2}]},"mark":{"type":"arc","outerRadius":70.5,"innerRadius":39,"stroke":"#fff","strokeWidth":1.5},"encoding":{"theta":{"field":"v","type":"quantitative","scale":{"domain":[0,100]}},"order":{"field":"i"},"color":{"field":"s","type":"nominal","scale":{"domain":["Rhythmic","Arrhythmic"],"range":["#e6b522","#00b0b9"]},"legend":{"orient":"none","legendX":-8,"legendY":-37,"title":null,"symbolType":"square","symbolSize":256,"symbolOpacity":1,"labelFontSize":12,"labelOffset":10,"rowPadding":0,"labelColor":"#222"}}}},
{"data":{"values":[{"l":"28.1%","p":14.9},{"l":"71.9%","p":69.4}]},"mark":{"type":"text","radius":89,"fontSize":12,"color":"#222"},"encoding":{"theta":{"field":"p","type":"quantitative","stack":null},"text":{"field":"l"}}}
]},
{"width":12,"height":142,"data":{"values":[]},"mark":"point"},
{"width":70,"height":24,"data":{"values":[]},"mark":"point"},
{"width":172,"height":24,"data":{"values":[]},"mark":"point"},
{"width":12,"height":24,"data":{"values":[]},"mark":"point"},
{"width":70,"height":363,"data":{"values":[]},"mark":"point","title":{"text":"B","dx":3,"dy":0}},
{"width":172,"height":363,"data":{"name":"h"},"mark":"rect","encoding":{"x":{"field":"t","type":"ordinal","axis":{"orient":"top","title":"ZT:","labelFontSize":13.5,"titleFontSize":13.5,"titleX":-18,"titleY":-4}},"y":{"field":"r","type":"ordinal","axis":null},"color":{"field":"z","type":"quantitative","scale":{"domain":[-2.7,0,2.7],"range":["#2e4ba0","#ffffff","#ed1c24"],"interpolate":"rgb"},"legend":{"orient":"none","direction":"horizontal","legendX":23,"legendY":386,"title":"Z-score","titleOrient":"left","titleFontSize":12.5,"titleFontWeight":"normal","titleColor":"#000","gradientLength":42,"gradientThickness":9,"values":[-2,0,2],"labelFontSize":12,"labelColor":"#000"}}}},
{"width":12,"height":363,"data":{"values":[{"c":"pink","a":0,"b":24},{"c":"green","a":24,"b":52},{"c":"orange","a":52,"b":72},{"c":"purple","a":72,"b":98}]},"mark":"rect","encoding":{"y":{"field":"a","type":"quantitative","scale":{"domain":[0,98],"reverse":true,"nice":false},"axis":null},"y2":{"field":"b"},"color":{"field":"c","type":"nominal","scale":{"domain":["pink","green","orange","purple"],"range":["#cd6ba7","#7cc5a9","#f0a853","#6c3a91"]},"legend":null}}},
{"width":70,"height":3,"data":{"values":[]},"mark":"point"},
{"width":172,"height":3,"data":{"values":[]},"mark":"point"},
{"width":12,"height":3,"data":{"values":[]},"mark":"point"},
{"width":70,"height":13,"data":{"values":[]},"mark":"point"},
{"width":172,"height":13,"data":{"name":"ld"},"mark":{"type":"rect","stroke":"#777"},"encoding":{"x":{"field":"p","type":"nominal","sort":null,"scale":{"range":[-2,181]},"axis":null},"fill":{"field":"p","type":"nominal","scale":{"domain":["L","D"],"range":["#fff","#000"]},"legend":null}}},
{"width":12,"height":13,"data":{"values":[]},"mark":"point"}
],"columns":3,"spacing":0,"bounds":"flush","resolve":{"scale":{"color":"independent","fill":"independent","theta":"independent"}}},
{"concat":[
{"width":94,"height":4,"data":{"values":[{"a":0.339,"b":0.006},{"a":0.48,"b":0.174},{"a":0.48,"b":0.179},{"a":0.643,"b":0.51},{"a":0.643,"b":0.515},{"a":0.762,"b":0.648},{"a":0.762,"b":0.653},{"a":0.914,"b":1}]},"mark":{"type":"rule","color":"#222","strokeWidth":1},"encoding":{"x":{"datum":0,"type":"quantitative","scale":{"domain":[0,1],"range":[0,95],"nice":false},"axis":null},"x2":{"datum":1},"y":{"field":"a","type":"quantitative","scale":{"domain":[0,1],"range":[-3,628],"nice":false},"axis":null},"y2":{"field":"b"}}},
{"width":435,"height":4,"data":{"values":[]},"mark":"point"},
{"width":94,"height":103,"data":{"values":[]},"mark":"point"},
{"width":435,"height":103,"view":{"stroke":"#555","strokeWidth":1.2},"data":{"values":[{"n":"protein transport","v":1.7},{"n":"regulation of transcription from|RNA polymerase II promoter","v":2.24},{"n":"chromatin organization","v":2.82}]},"mark":{"type":"bar","color":"#cd6ba7"},"encoding":{"x":{"field":"v","type":"quantitative","title":null,"scale":{"domain":[0,3],"range":[190,372],"nice":false},"axis":{"offset":-18,"values":[0,0.5,1,1.5,2,2.5,3],"format":"~g","grid":false}},"y":{"field":"n","type":"nominal","title":null,"sort":null,"scale":{"range":[3,85],"paddingInner":0.38,"paddingOuter":0.19},"axis":{"offset":-190,"labelExpr":"split(datum.label,'|')"}}}},
{"width":94,"height":3,"data":{"values":[]},"mark":"point"},
{"width":435,"height":3,"data":{"values":[]},"mark":"point"},
{"width":94,"height":209,"data":{"values":[]},"mark":"point"},
{"width":435,"height":209,"view":{"stroke":"#555","strokeWidth":1.2},"data":{"values":[{"n":"protein N-linked glycosylation","v":2.42},{"n":"tricarboxylic acid cycle","v":4.15},{"n":"aerobic respiration","v":5.69},{"n":"protein transport","v":5.75},{"n":"RNA splicing","v":6.55},{"n":"protein catabolic process","v":6.6},{"n":"mitochondrial translation","v":9.04},{"n":"mitochondrial ATP synthesis","v":10.38}]},"mark":{"type":"bar","color":"#7cc5a9"},"encoding":{"x":{"field":"v","type":"quantitative","title":null,"scale":{"domain":[0,12],"range":[191,376],"nice":false},"axis":{"offset":-24,"values":[0,2,4,6,8,10,12],"grid":false}},"y":{"field":"n","type":"nominal","title":null,"sort":null,"scale":{"range":[12,185],"paddingInner":0.38,"paddingOuter":0.19},"axis":{"offset":-191}}}},
{"width":94,"height":3,"data":{"values":[]},"mark":"point"},
{"width":435,"height":3,"data":{"values":[]},"mark":"point"},
{"width":94,"height":84,"data":{"values":[]},"mark":"point"},
{"width":435,"height":84,"view":{"stroke":"#555","strokeWidth":1.2},"data":{"values":[{"n":"apoptotic process","v":1.7},{"n":"positive regulation of|transcription","v":5.18}]},"mark":{"type":"bar","color":"#f0a853"},"encoding":{"x":{"field":"v","type":"quantitative","title":null,"scale":{"domain":[0,6],"range":[192,430],"nice":false},"axis":{"offset":-22,"values":[0,1,2,3,4,5,6],"grid":false}},"y":{"field":"n","type":"nominal","title":null,"sort":null,"scale":{"range":[7,62],"paddingInner":0.38,"paddingOuter":0.19},"axis":{"offset":-192,"labelExpr":"split(datum.label,'|')"}}}},
{"width":94,"height":3,"data":{"values":[]},"mark":"point"},
{"width":435,"height":3,"data":{"values":[]},"mark":"point"},
{"width":94,"height":219,"data":{"values":[]},"mark":"point"},
{"width":435,"height":219,"view":{"stroke":"#555","strokeWidth":1.2},"data":{"values":[{"n":"actin cytoskeleton","v":1.96},{"n":"wound healing","v":2.63},{"n":"cholesterol metabolic process","v":3.17},{"n":"sterol biosynthetic process","v":3.17},{"n":"positive regulation of gene..","v":3.37},{"n":"cell adhesion","v":3.37},{"n":"phosphorylation","v":3.37},{"n":"cell migration","v":3.73},{"n":"cholesterol biosynthesis","v":4.96}]},"mark":{"type":"bar","color":"#6c3a91"},"encoding":{"x":{"field":"v","type":"quantitative","title":"-log10(FDR)","scale":{"domain":[0,6],"range":[191,378],"nice":false},"axis":{"offset":-39,"values":[0,1,2,3,4,5,6],"grid":false,"titleFontSize":12.5,"titlePadding":7}},"y":{"field":"n","type":"nominal","title":null,"sort":null,"scale":{"range":[7,180],"paddingInner":0.38,"paddingOuter":0.19},"axis":{"offset":-191}}}}
],"columns":2,"spacing":0,"bounds":"flush"}
],"spacing":0,"resolve":{"scale":{"color":"independent","fill":"independent","theta":"independent"}}},

{"concat":[
{"width":79,"height":52,"data":{"values":[]},"mark":"point","title":{"text":"C","dx":3,"dy":23}},
{"width":127,"height":52,"data":{"values":[]},"mark":"point"},
{"width":53,"height":52,"data":{"values":[]},"mark":"point"},
{"width":127,"height":52,"data":{"values":[]},"mark":"point"},
{"width":52,"height":52,"data":{"values":[]},"mark":"point"},
{"width":127,"height":52,"data":{"values":[]},"mark":"point"},
{"width":47,"height":52,"data":{"values":[]},"mark":"point"},
{"width":127,"height":52,"data":{"values":[]},"mark":"point"},

{"width":79,"height":111,"data":{"values":[]},"mark":"point"},
{"width":127,"height":111,"title":{"text":"Chromatin organization","color":"#dc6fb0","fontSize":12.5,"fontWeight":"normal","anchor":"middle","offset":4},"layer":[
{"data":{"name":"c1"},"mark":"rect","encoding":{"x":{"field":"t","type":"ordinal","axis":{"orient":"top","title":"ZT:"}},"y":{"field":"r","type":"ordinal","scale":{"range":[3,103]},"axis":null},"color":{"field":"z","type":"quantitative","scale":{"domain":[-2.7,0,2.7],"range":["#2e4ba0","#ffffff","#ed1c24"],"interpolate":"rgb"},"legend":null}}},
{"data":{"name":"ld"},"mark":{"type":"rect","stroke":"#777"},"encoding":{"x":{"field":"p","type":"nominal","sort":null,"axis":null},"y":{"datum":"b","type":"nominal","scale":{"domain":["b"],"range":[105,111]},"axis":null},"fill":{"field":"p","type":"nominal","scale":{"domain":["L","D"],"range":["#fff","#000"]},"legend":null}}},
{"data":{"values":[{"g":"Mysm1"},{"g":"Tet3"},{"g":"Cbx1"},{"g":"Hdac8"},{"g":"Brd8"},{"g":"Cdan1"},{"g":"Kdm5a"},{"g":"Kdm3b"},{"g":"Hltf"},{"g":"Cbx2"},{"g":"Chd5"},{"g":"Brd3"},{"g":"Loxl2"}]},"mark":{"type":"point","opacity":0},"encoding":{"y":{"field":"g","type":"nominal","sort":null,"scale":{"type":"band","range":[3,103],"paddingInner":0,"paddingOuter":0},"axis":{"orient":"right","title":null}}}}
],"resolve":{"scale":{"x":"independent","y":"independent","color":"independent"}}},
{"width":53,"height":111,"data":{"values":[]},"mark":"point"},
{"width":127,"height":111,"title":{"text":"Mitochondrial translation","color":"#7cc8ab","fontSize":12.5,"fontWeight":"normal","anchor":"middle","offset":4},"layer":[
{"data":{"name":"c2"},"mark":"rect","encoding":{"x":{"field":"t","type":"ordinal","axis":{"orient":"top","title":"ZT:"}},"y":{"field":"r","type":"ordinal","scale":{"range":[3,103]},"axis":null},"color":{"field":"z","type":"quantitative","scale":{"domain":[-2.7,0,2.7],"range":["#2e4ba0","#ffffff","#ed1c24"],"interpolate":"rgb"},"legend":null}}},
{"data":{"name":"ld"},"mark":{"type":"rect","stroke":"#777"},"encoding":{"x":{"field":"p","type":"nominal","sort":null,"axis":null},"y":{"datum":"b","type":"nominal","scale":{"domain":["b"],"range":[105,111]},"axis":null},"fill":{"field":"p","type":"nominal","scale":{"domain":["L","D"],"range":["#fff","#000"]},"legend":null}}},
{"data":{"values":[{"g":"Mrpl3"},{"g":"Mrpl22"},{"g":"Mrps10"},{"g":"Mrpl35"},{"g":"Mrpl38"},{"g":"Mrpl17"},{"g":"Gfm2"},{"g":"Mrpl16"},{"g":"Dap3"},{"g":"Mrps2"},{"g":"Rars2"},{"g":"Iars2"}]},"mark":{"type":"point","opacity":0},"encoding":{"y":{"field":"g","type":"nominal","sort":null,"scale":{"type":"band","range":[3,103],"paddingInner":0,"paddingOuter":0},"axis":{"orient":"right","title":null}}}}
],"resolve":{"scale":{"x":"independent","y":"independent","color":"independent"}}},
{"width":52,"height":111,"data":{"values":[]},"mark":"point"},
{"width":127,"height":111,"title":{"text":"Regulation of transcription","color":"#f2a950","fontSize":12.5,"fontWeight":"normal","anchor":"middle","offset":4},"layer":[
{"data":{"name":"c3"},"mark":"rect","encoding":{"x":{"field":"t","type":"ordinal","scale":{"range":[0,126]},"axis":{"orient":"top","title":"ZT:","titleX":-9}},"y":{"field":"r","type":"ordinal","scale":{"range":[0,103]},"axis":null},"color":{"field":"z","type":"quantitative","scale":{"domain":[-2.7,0,2.7],"range":["#2e4ba0","#ffffff","#ed1c24"],"interpolate":"rgb"},"legend":null}}},
{"data":{"name":"ld"},"mark":{"type":"rect","stroke":"#777"},"encoding":{"x":{"field":"p","type":"nominal","sort":null,"scale":{"range":[0,126]},"axis":null},"y":{"datum":"b","type":"nominal","scale":{"domain":["b"],"range":[105,111]},"axis":null},"fill":{"field":"p","type":"nominal","scale":{"domain":["L","D"],"range":["#fff","#000"]},"legend":null}}},
{"data":{"values":[{"g":"Kat2a"},{"g":"Sox8"},{"g":"Fos"},{"g":"Runx1"},{"g":"Tfeb"},{"g":"Bambi"},{"g":"Ppara"},{"g":"Ilf2"},{"g":"Id2"},{"g":"Smad4"},{"g":"Grhl2"},{"g":"Atxn7"}]},"mark":{"type":"point","opacity":0},"encoding":{"y":{"field":"g","type":"nominal","sort":null,"scale":{"type":"band","range":[0,103],"paddingInner":0,"paddingOuter":0},"axis":{"orient":"right","title":null}}}}
],"resolve":{"scale":{"x":"independent","y":"independent","color":"independent"}}},
{"width":47,"height":111,"data":{"values":[]},"mark":"point"},
{"width":127,"height":111,"title":{"text":"Cholesterol biosynthesis","color":"#6f3f98","fontSize":12.5,"fontWeight":"normal","anchor":"middle","offset":4},"layer":[
{"data":{"name":"c4"},"mark":"rect","encoding":{"x":{"field":"t","type":"ordinal","scale":{"range":[0,126]},"axis":{"orient":"top","title":"ZT:","titleX":-7}},"y":{"field":"r","type":"ordinal","scale":{"range":[0,103]},"axis":null},"color":{"field":"z","type":"quantitative","scale":{"domain":[-2.7,0,2.7],"range":["#2e4ba0","#ffffff","#ed1c24"],"interpolate":"rgb"},"legend":null}}},
{"data":{"name":"ld"},"mark":{"type":"rect","stroke":"#777"},"encoding":{"x":{"field":"p","type":"nominal","sort":null,"scale":{"range":[0,126]},"axis":null},"y":{"datum":"b","type":"nominal","scale":{"domain":["b"],"range":[105,111]},"axis":null},"fill":{"field":"p","type":"nominal","scale":{"domain":["L","D"],"range":["#fff","#000"]},"legend":null}}},
{"data":{"values":[{"g":"Cyp51"},{"g":"Apoa1"},{"g":"Ces1d"},{"g":"Hsd17b7"},{"g":"Mvd"},{"g":"Idi1"},{"g":"Hmgcs1"},{"g":"Nsdhl"},{"g":"Lss"},{"g":"Srebf1"},{"g":"Tm7sf2"}]},"mark":{"type":"point","opacity":0},"encoding":{"y":{"field":"g","type":"nominal","sort":null,"scale":{"type":"band","range":[0,103],"paddingInner":0,"paddingOuter":0},"axis":{"orient":"right","title":null}}}}
],"resolve":{"scale":{"x":"independent","y":"independent","color":"independent"}}},

{"width":79,"height":36,"data":{"values":[]},"mark":"point"},
{"width":127,"height":36,"data":{"values":[]},"mark":"point"},
{"width":53,"height":36,"data":{"values":[]},"mark":"point"},
{"width":127,"height":36,"data":{"values":[]},"mark":"point"},
{"width":52,"height":36,"data":{"values":[]},"mark":"point"},
{"width":127,"height":36,"data":{"values":[]},"mark":"point"},
{"width":47,"height":36,"data":{"values":[]},"mark":"point"},
{"width":127,"height":36,"data":{"values":[]},"mark":"point"},

{"width":79,"height":109,"data":{"values":[]},"mark":"point"},
{"width":127,"height":109,"title":{"text":"Protein transport","color":"#dc6fb0","fontSize":12.5,"fontWeight":"normal","anchor":"middle","offset":4},"layer":[
{"data":{"name":"c5"},"mark":"rect","encoding":{"x":{"field":"t","type":"ordinal","scale":{"range":[-3,124]},"axis":{"orient":"top","title":"ZT:","titleX":-10}},"y":{"field":"r","type":"ordinal","scale":{"range":[0,100]},"axis":null},"color":{"field":"z","type":"quantitative","scale":{"domain":[-2.7,0,2.7],"range":["#2e4ba0","#ffffff","#ed1c24"],"interpolate":"rgb"},"legend":null}}},
{"data":{"name":"ld"},"mark":{"type":"rect","stroke":"#777"},"encoding":{"x":{"field":"p","type":"nominal","sort":null,"scale":{"range":[-3,124]},"axis":null},"y":{"datum":"b","type":"nominal","scale":{"domain":["b"],"range":[102,109]},"axis":null},"fill":{"field":"p","type":"nominal","scale":{"domain":["L","D"],"range":["#fff","#000"]},"legend":null}}},
{"data":{"values":[{"g":"Zfand6"},{"g":"Cog2"},{"g":"Rilpl1"},{"g":"Ap4e1"},{"g":"Cog3"},{"g":"Vhl"},{"g":"Arl8b"},{"g":"Pex1"},{"g":"Cadps"},{"g":"Vps18"},{"g":"Rinl"}]},"mark":{"type":"point","opacity":0},"encoding":{"y":{"field":"g","type":"nominal","sort":null,"scale":{"type":"band","range":[0,100],"paddingInner":0,"paddingOuter":0},"axis":{"orient":"right","title":null,"offset":-3}}}}
],"resolve":{"scale":{"x":"independent","y":"independent","color":"independent"}}},
{"width":53,"height":109,"data":{"values":[]},"mark":"point"},
{"width":127,"height":109,"title":{"text":"ATP synthesis","color":"#7cc8ab","fontSize":12.5,"fontWeight":"normal","anchor":"middle","offset":4},"layer":[
{"data":{"name":"c6"},"mark":"rect","encoding":{"x":{"field":"t","type":"ordinal","axis":{"orient":"top","title":"ZT:","titleX":-9}},"y":{"field":"r","type":"ordinal","scale":{"range":[0,100]},"axis":null},"color":{"field":"z","type":"quantitative","scale":{"domain":[-2.7,0,2.7],"range":["#2e4ba0","#ffffff","#ed1c24"],"interpolate":"rgb"},"legend":null}}},
{"data":{"name":"ld"},"mark":{"type":"rect","stroke":"#777"},"encoding":{"x":{"field":"p","type":"nominal","sort":null,"axis":null},"y":{"datum":"b","type":"nominal","scale":{"domain":["b"],"range":[102,109]},"axis":null},"fill":{"field":"p","type":"nominal","scale":{"domain":["L","D"],"range":["#fff","#000"]},"legend":null}}},
{"data":{"values":[{"g":"Atp5l"},{"g":"Ndufs4"},{"g":"Ndufs2"},{"g":"Ndufb4"},{"g":"Sdhd"},{"g":"Atp5b"},{"g":"Atp5c1"},{"g":"Ndufa10"},{"g":"Ndufa9"},{"g":"Atp5o"},{"g":"Ndufv1"}]},"mark":{"type":"point","opacity":0},"encoding":{"y":{"field":"g","type":"nominal","sort":null,"scale":{"type":"band","range":[0,100],"paddingInner":0,"paddingOuter":0},"axis":{"orient":"right","title":null,"offset":1}}}}
],"resolve":{"scale":{"x":"independent","y":"independent","color":"independent"}}},
{"width":52,"height":109,"data":{"values":[]},"mark":"point"},
{"width":127,"height":109,"title":{"text":"Apoptotic process","color":"#f2a950","fontSize":12.5,"fontWeight":"normal","anchor":"middle","offset":4},"layer":[
{"data":{"name":"c7"},"mark":"rect","encoding":{"x":{"field":"t","type":"ordinal","axis":{"orient":"top","title":"ZT:","titleX":-10}},"y":{"field":"r","type":"ordinal","scale":{"range":[0,100]},"axis":null},"color":{"field":"z","type":"quantitative","scale":{"domain":[-2.7,0,2.7],"range":["#2e4ba0","#ffffff","#ed1c24"],"interpolate":"rgb"},"legend":null}}},
{"data":{"name":"ld"},"mark":{"type":"rect","stroke":"#777"},"encoding":{"x":{"field":"p","type":"nominal","sort":null,"axis":null},"y":{"datum":"b","type":"nominal","scale":{"domain":["b"],"range":[102,109]},"axis":null},"fill":{"field":"p","type":"nominal","scale":{"domain":["L","D"],"range":["#fff","#000"]},"legend":null}}},
{"data":{"values":[{"g":"Abl1"},{"g":"Pmaip1"},{"g":"Cln8"},{"g":"Gsdma2"},{"g":"Cidec"},{"g":"Pcsk9"},{"g":"Aldh1a3"},{"g":"Sav1"},{"g":"Nlrc4"},{"g":"Btc"},{"g":"Cidea"},{"g":"Rrp1b"}]},"mark":{"type":"point","opacity":0},"encoding":{"y":{"field":"g","type":"nominal","sort":null,"scale":{"type":"band","range":[0,100],"paddingInner":0,"paddingOuter":0},"axis":{"orient":"right","title":null}}}}
],"resolve":{"scale":{"x":"independent","y":"independent","color":"independent"}}},
{"width":47,"height":109,"data":{"values":[]},"mark":"point"},
{"width":127,"height":109,"title":{"text":"Wound healing","color":"#6f3f98","fontSize":12.5,"fontWeight":"normal","anchor":"middle","offset":4},"layer":[
{"data":{"name":"c8"},"mark":"rect","encoding":{"x":{"field":"t","type":"ordinal","scale":{"range":[1,129]},"axis":{"orient":"top","title":"ZT:"}},"y":{"field":"r","type":"ordinal","scale":{"range":[0,100]},"axis":null},"color":{"field":"z","type":"quantitative","scale":{"domain":[-2.7,0,2.7],"range":["#2e4ba0","#ffffff","#ed1c24"],"interpolate":"rgb"},"legend":null}}},
{"data":{"name":"ld"},"mark":{"type":"rect","stroke":"#777"},"encoding":{"x":{"field":"p","type":"nominal","sort":null,"scale":{"range":[1,129]},"axis":null},"y":{"datum":"b","type":"nominal","scale":{"domain":["b"],"range":[102,109]},"axis":null},"fill":{"field":"p","type":"nominal","scale":{"domain":["L","D"],"range":["#fff","#000"]},"legend":null}}},
{"data":{"values":[{"g":"Cav1"},{"g":"Eng"},{"g":"Fgf7"},{"g":"Macf1"},{"g":"Plec"},{"g":"Ppl"},{"g":"Ptk7"},{"g":"Scrib"},{"g":"Tgfbr2"},{"g":"Tpm1"},{"g":"Wnt5a"}]},"mark":{"type":"point","opacity":0},"encoding":{"y":{"field":"g","type":"nominal","sort":null,"scale":{"type":"band","range":[0,100],"paddingInner":0,"paddingOuter":0},"axis":{"orient":"right","title":null,"offset":2}}}}
],"resolve":{"scale":{"x":"independent","y":"independent","color":"independent"}}}
],"columns":8,"spacing":0,"bounds":"flush","resolve":{"scale":{"color":"independent","fill":"independent"}}},

{"concat":[
{"width":130,"height":32,"data":{"values":[]},"mark":"point","title":{"text":"D","dx":3,"dy":51}},
{"width":207,"height":32,"data":{"values":[]},"mark":"point"},
{"width":167,"height":32,"data":{"values":[]},"mark":"point","title":{"text":"E","dx":98,"dy":55}},
{"width":249,"height":32,"data":{"values":[]},"mark":"point"},

{"width":130,"height":207,"data":{"values":[]},"mark":"point"},
{"width":207,"height":207,"view":{"stroke":"#aaa","strokeWidth":1.5},"layer":[
{"data":{"values":[{"ring":250},{"ring":500},{"ring":750},{"ring":1000},{"ring":1170}]},"mark":{"type":"arc","fill":null,"stroke":"#eeeeee","strokeWidth":1},"encoding":{"theta":{"datum":0,"type":"quantitative","scale":{"domain":[0,24],"range":[0,6.2832]}},"theta2":{"datum":24},"radius":{"field":"ring","type":"quantitative","stack":null,"scale":{"domain":[0,1000],"range":[0,79.3],"nice":false}}}},
{"data":{"values":[{"a":-0.02,"b":0.02,"hi":1170,"lo":0},{"a":2.98,"b":3.02,"hi":1170,"lo":0},{"a":5.98,"b":6.02,"hi":1170,"lo":0},{"a":8.98,"b":9.02,"hi":1170,"lo":0},{"a":11.98,"b":12.02,"hi":1170,"lo":0},{"a":14.98,"b":15.02,"hi":1170,"lo":0},{"a":17.98,"b":18.02,"hi":1170,"lo":0},{"a":20.98,"b":21.02,"hi":1170,"lo":0}]},"mark":{"type":"arc","fill":"#eeeeee"},"encoding":{"theta":{"field":"a","type":"quantitative","stack":null},"theta2":{"field":"b"},"radius":{"field":"hi","type":"quantitative","stack":null},"radius2":{"field":"lo"}}},
{"data":{"values":[{"a":-0.75,"b":0.75,"lo":0,"hi":202,"k":">0.25"},{"a":-0.75,"b":0.75,"lo":202,"hi":286,"k":"0.2–0.25"},{"a":-0.75,"b":0.75,"lo":286,"hi":441,"k":"0.15–0.2"},{"a":-0.75,"b":0.75,"lo":441,"hi":622,"k":"0.1–0.15"},{"a":-0.75,"b":0.75,"lo":622,"hi":932,"k":"<0.1"},
{"a":2.25,"b":3.75,"lo":0,"hi":84,"k":">0.25"},{"a":2.25,"b":3.75,"lo":84,"hi":130,"k":"0.2–0.25"},{"a":2.25,"b":3.75,"lo":130,"hi":223,"k":"0.15–0.2"},{"a":2.25,"b":3.75,"lo":223,"hi":340,"k":"0.1–0.15"},{"a":2.25,"b":3.75,"lo":340,"hi":651,"k":"<0.1"},
{"a":5.25,"b":6.75,"lo":0,"hi":59,"k":">0.25"},{"a":5.25,"b":6.75,"lo":59,"hi":122,"k":"0.2–0.25"},{"a":5.25,"b":6.75,"lo":122,"hi":214,"k":"0.15–0.2"},{"a":5.25,"b":6.75,"lo":214,"hi":403,"k":"0.1–0.15"},{"a":5.25,"b":6.75,"lo":403,"hi":777,"k":"<0.1"},
{"a":8.25,"b":9.75,"lo":0,"hi":113,"k":">0.25"},{"a":8.25,"b":9.75,"lo":113,"hi":218,"k":"0.2–0.25"},{"a":8.25,"b":9.75,"lo":218,"hi":340,"k":"0.15–0.2"},{"a":8.25,"b":9.75,"lo":340,"hi":592,"k":"0.1–0.15"},{"a":8.25,"b":9.75,"lo":592,"hi":1029,"k":"<0.1"},
{"a":11.25,"b":12.75,"lo":0,"hi":168,"k":">0.25"},{"a":11.25,"b":12.75,"lo":168,"hi":244,"k":"0.2–0.25"},{"a":11.25,"b":12.75,"lo":244,"hi":336,"k":"0.15–0.2"},{"a":11.25,"b":12.75,"lo":336,"hi":475,"k":"0.1–0.15"},{"a":11.25,"b":12.75,"lo":475,"hi":693,"k":"<0.1"},
{"a":14.25,"b":15.75,"lo":0,"hi":122,"k":">0.25"},{"a":14.25,"b":15.75,"lo":122,"hi":231,"k":"0.2–0.25"},{"a":14.25,"b":15.75,"lo":231,"hi":340,"k":"0.15–0.2"},{"a":14.25,"b":15.75,"lo":340,"hi":458,"k":"0.1–0.15"},{"a":14.25,"b":15.75,"lo":458,"hi":672,"k":"<0.1"},
{"a":17.25,"b":18.75,"lo":0,"hi":164,"k":">0.25"},{"a":17.25,"b":18.75,"lo":164,"hi":244,"k":"0.2–0.25"},{"a":17.25,"b":18.75,"lo":244,"hi":365,"k":"0.15–0.2"},{"a":17.25,"b":18.75,"lo":365,"hi":546,"k":"0.1–0.15"},{"a":17.25,"b":18.75,"lo":546,"hi":840,"k":"<0.1"},
{"a":20.25,"b":21.75,"lo":0,"hi":122,"k":">0.25"},{"a":20.25,"b":21.75,"lo":122,"hi":210,"k":"0.2–0.25"},{"a":20.25,"b":21.75,"lo":210,"hi":357,"k":"0.15–0.2"},{"a":20.25,"b":21.75,"lo":357,"hi":571,"k":"0.1–0.15"},{"a":20.25,"b":21.75,"lo":571,"hi":878,"k":"<0.1"}]},"mark":{"type":"arc","stroke":"#555","strokeWidth":0.8},"encoding":{"theta":{"field":"a","type":"quantitative","stack":null},"theta2":{"field":"b"},"radius":{"field":"hi","type":"quantitative","stack":null},"radius2":{"field":"lo"},"fill":{"field":"k","type":"ordinal","scale":{"domain":["<0.1","0.1–0.15","0.15–0.2","0.2–0.25",">0.25"],"range":["#eff3f8","#bdd7e7","#6baed6","#3182bd","#08519c"]},"legend":{"orient":"none","legendX":219,"legendY":64,"title":"Amplitude_rank","titleFontSize":12,"titleFontWeight":"normal","titleColor":"#000","labelFontSize":12,"labelColor":"#000","symbolType":"square","symbolSize":156,"symbolStrokeColor":"#555","symbolStrokeWidth":0.8,"symbolOpacity":1,"rowPadding":0,"labelOffset":4,"titlePadding":2}}}},
{"data":{"values":[{"p":0,"l":"0","r":1190},{"p":6,"l":"6","r":1200},{"p":12,"l":"12","r":1160},{"p":18,"l":"18","r":1120}]},"mark":{"type":"text","fontSize":12,"color":"#555"},"encoding":{"theta":{"field":"p","type":"quantitative","stack":null},"radius":{"field":"r","type":"quantitative","stack":null},"text":{"field":"l"}}},
{"data":{"values":[{"n":0},{"n":250},{"n":500},{"n":750},{"n":1000}]},"mark":{"type":"point","opacity":0},"encoding":{"x":{"datum":0,"type":"quantitative","scale":{"domain":[0,1]},"axis":{"title":"Phase","labels":false,"ticks":false,"domain":false,"grid":false,"titleFontSize":13,"titlePadding":3}},"y":{"field":"n","type":"quantitative","scale":{"domain":[0,1000],"range":[103,23.7],"nice":false},"axis":{"values":[0,250,500,750,1000],"format":"d","grid":false,"domain":false,"title":"count","titleFontSize":13,"titleFontWeight":"normal","titleColor":"#000","titleX":-31,"titleY":101,"labelColor":"#444","labelFontSize":13,"tickColor":"#444","labelPadding":2}}}}
]},
{"width":167,"height":195,"data":{"values":[]},"mark":"point"},
{"width":249,"height":195,"layer":[
{"data":{"name":"bx"},"mark":{"type":"rule","color":"#333","strokeWidth":1.2},"encoding":{"x":{"field":"n","type":"nominal","sort":null,"title":null,"scale":{"paddingInner":0,"paddingOuter":0.1},"axis":{"labelAngle":-45,"labelAlign":"right","labelBaseline":"top","labelFontSize":12,"domainWidth":1.5,"labelPadding":4}},"y":{"field":"lo","type":"quantitative","title":"Amplitude","scale":{"domain":[-0.0195,0.613],"nice":false,"zero":false},"axis":{"values":[0,0.2,0.4,0.6],"format":".1f","grid":true,"gridDash":[1,3],"gridColor":"#999","labelColor":"#444","labelFontSize":12.5,"titleFontSize":11,"titleFontWeight":"normal","titleColor":"#000","domainWidth":1.5,"titlePadding":0}},"y2":{"field":"hi"}}},
{"data":{"name":"bx"},"mark":{"type":"bar","size":23,"stroke":"#333","strokeWidth":1.2},"encoding":{"x":{"field":"n","type":"nominal","sort":null},"y":{"field":"q1","type":"quantitative"},"y2":{"field":"q3"},"fill":{"field":"n","type":"nominal","sort":null,"scale":{"range":["#dd87b8","#dd87b8","#8fcfb5","#8fcfb5","#f4b26c","#f4b26c","#84549f","#84549f"]},"legend":null}}},
{"data":{"name":"bx"},"mark":{"type":"tick","size":23,"thickness":2.2,"color":"#333"},"encoding":{"x":{"field":"n","type":"nominal","sort":null},"y":{"field":"m","type":"quantitative"}}},
{"data":{"values":[{"n":"chromatin organization","o":0.355},{"n":"chromatin organization","o":0.33},{"n":"chromatin organization","o":0.29},{"n":"mitochondrial ATP biosynthesis","o":0.424},{"n":"mitochondrial ATP biosynthesis","o":0.37},{"n":"mitochondrial ATP biosynthesis","o":0.305},{"n":"mitochondrial ATP biosynthesis","o":0.277},{"n":"regulation of transcription","o":0.475},{"n":"regulation of transcription","o":0.411},{"n":"regulation of transcription","o":0.402},{"n":"regulation of transcription","o":0.351},{"n":"apoptotic progress","o":0.581},{"n":"wound healing","o":0.368}]},"mark":{"type":"circle","size":20,"color":"#444","opacity":1},"encoding":{"x":{"field":"n","type":"nominal","sort":null},"y":{"field":"o","type":"quantitative"}}}
]}
],"columns":4,"spacing":0,"bounds":"flush","resolve":{"scale":{"color":"independent","fill":"independent","theta":"independent","radius":"independent"}}}
],"spacing":0}
